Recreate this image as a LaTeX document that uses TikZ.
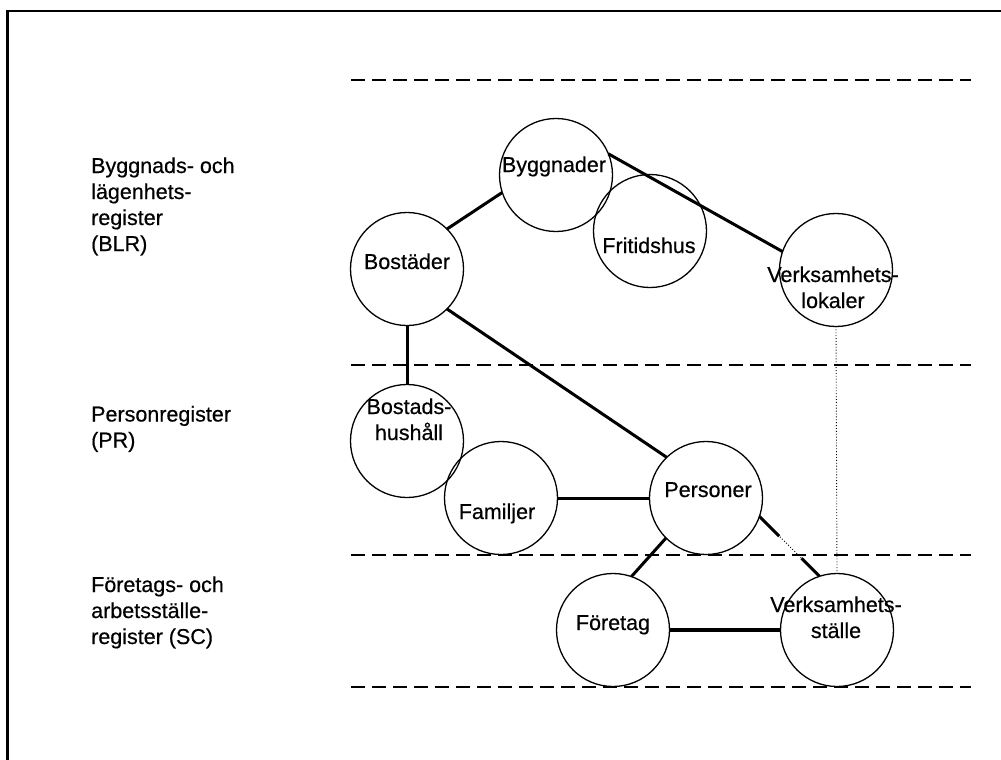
\documentclass[tikz,border=0pt]{standalone}
\usepackage{fontspec}
\setmainfont{Liberation Sans}
\newfontfamily\scanfont{Liberation Sans}[FakeBold=0.5]
\usetikzlibrary{calc}
\begin{document}
\begin{tikzpicture}[x=1pt,y=-1pt,
  ent/.style={circle,draw,line width=1.3pt,minimum size=113pt,inner sep=0pt,outer sep=0pt},
  lbl/.style={font=\scanfont\fontsize{21.5}{26}\selectfont,align=center,anchor=base,inner sep=0pt},
  side/.style={font=\scanfont\fontsize{21.5}{26}\selectfont,align=left,anchor=base west,inner sep=0pt},
  conn/.style={line width=3pt},
  heavy/.style={line width=4pt},
  layer/.style={line width=2.6pt,dash pattern=on 14pt off 7pt},
  link/.style={line width=0.9pt,dotted}]
\useasboundingbox (0,0) rectangle (1001,760);
% frame (top and left edges)
\draw[line width=2.2pt] (7.5,760) -- (7.5,11) -- (1001,11);
% layer separators
\coordinate (d1a) at (351,80);  \coordinate (d1b) at (971,80);
\coordinate (d2a) at (351,365); \coordinate (d2b) at (971,365);
\coordinate (d3a) at (351,555); \coordinate (d3b) at (971,555);
\coordinate (d4a) at (351,687); \coordinate (d4b) at (971,687);
\draw[layer] (d1a) -- (d1b);
\draw[layer] (d2a) -- (d2b);
\draw[layer] (d3a) -- (d3b);
\draw[layer] (d4a) -- (d4b);
% register labels (anchored at the baseline of their last line)
\node[side] (s1) at (91,251) {Byggnads- och\\lägenhets-\\register\\(BLR)};
\node[side] (s2) at (91,447.5) {Personregister\\(PR)};
\node[side] (s3) at (91,644) {Företags- och\\arbetsställe-\\register (SC)};
% entity circles
\node[ent] (B)  at (556,175) {};
\node[ent] (F)  at (650,231) {};
\node[ent] (Bo) at (407,269) {};
\node[ent] (VL) at (836,270) {};
\node[ent] (BH) at (407,441) {};
\node[ent] (Fa) at (501,498) {};
\node[ent] (P)  at (706,498) {};
\node[ent] (Fo) at (613,630) {};
\node[ent] (VS) at (837,630) {};
% entity texts
\node[lbl] (tB)  at (554,172) {Byggnader};
\node[lbl] (tF)  at (649,253) {Fritidshus};
\node[lbl] (tBo) at (407,269) {Bostäder};
\node[lbl] (tVL) at (833,308) {Verksamhets-\\lokaler};
\node[lbl] (tBH) at (409,440) {Bostads-\\hushåll};
\node[lbl] (tFa) at (497,519) {Familjer};
\node[lbl] (tP)  at (708,497) {Personer};
\node[lbl] (tFo) at (613,630) {Företag};
\node[lbl] (tVS) at (836,638) {Verksamhets-\\ställe};
% connectors
\draw[conn] (B.198) -- (Bo.45);
\draw[conn] (B.22) -- (VL.161);
\draw[conn] (Bo.south) -- (BH.north);
\draw[conn] (Bo.-45) -- (P.134);
\draw[conn] (Fa.east) -- (P.west);
\draw[conn] (P.225) -- (Fo.71);
\draw[link] (P.-19) -- (VS.108);
\draw[conn] (P.-19) -- ($(P.-19)!0.33!(VS.108)$);
\draw[conn] ($(P.-19)!0.70!(VS.108)$) -- (VS.108);
\draw[heavy] (Fo.east) -- (VS.west);
\draw[link] (VL.south) -- (VS.north);
\end{tikzpicture}
\end{document}
